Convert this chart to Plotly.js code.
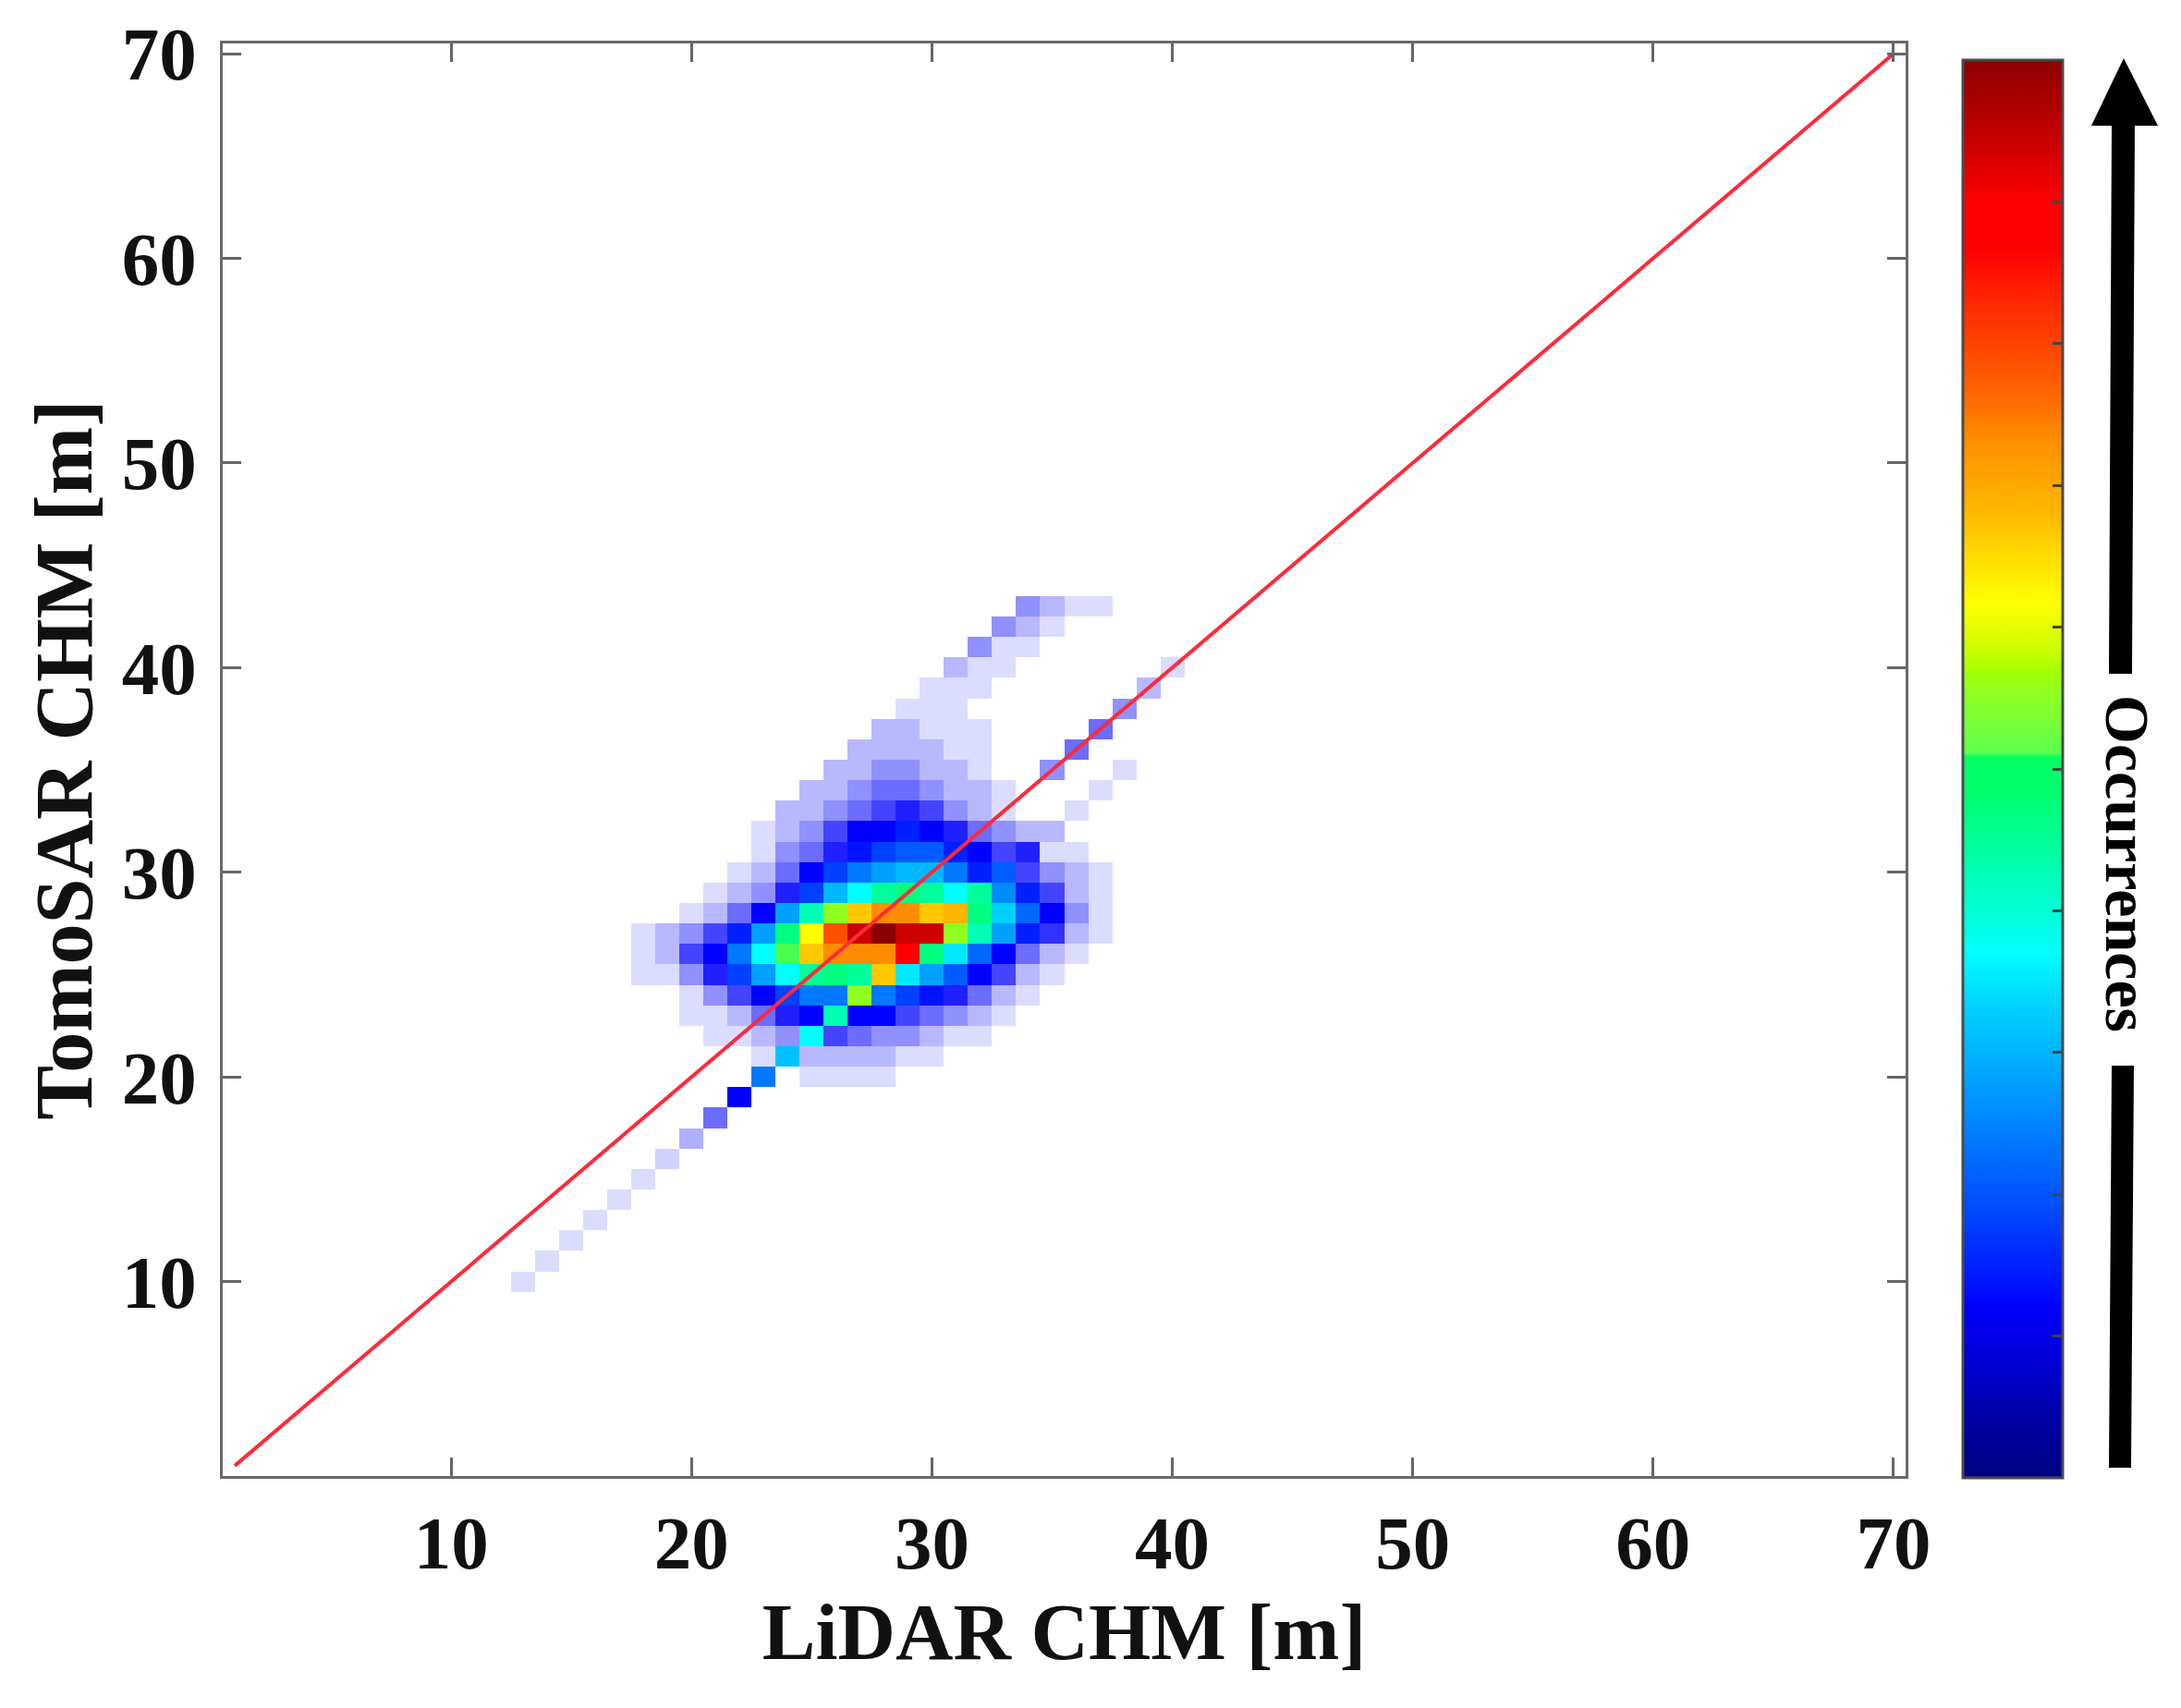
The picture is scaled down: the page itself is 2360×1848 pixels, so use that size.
<!DOCTYPE html>
<html>
<head>
<meta charset="utf-8">
<script src="https://cdn.plot.ly/plotly-3.0.1.min.js"></script>
<style>html,body{margin:0;padding:0;background:#fff}</style>
</head>
<body>
<div id="chart" style="width:2360px;height:1848px"></div>
<script>
// Each row: TomoSAR bin, first LiDAR bin, and the occurrence level of successive LiDAR bins
const rowY = [10,11,12,13,14,15,16,17,18,19,20,21,22,23,24,25,26,27,28,29,30,31,32,33,34,35,36,37,38,39,40,41,42,43];
const rowFirstX = [13,14,15,16,17,18,19,20,21,22,23,23,21,20,20,18,18,18,20,21,22,23,23,24,25,26,27,28,29,30,31,32,33,34];
const n = null;
const rowLevels = [
  [1],[1],[1],[1],[1],[1],[1.3],[2.2],[4],[7],
  [9,n,1,1,1,1],
  [1,10.7,2,2,2,2,1,1],
  [1,1,2,3,12,5,4,3,3,2,1,1],
  [1,1,2,4,6,7,13,7,7,5,4,3,2,1],
  [1,3,5,7,8,9,9,15,9,8,7.3,6,4,2,1],
  [1,1,3,6,8,10,12,13.5,14,13.5,17,11.5,10,8.5,7,5,2,1],
  [1,2,5,7,9,12,14.5,17,18,18,18,20,14,11.5,8.7,7,4,2,1],
  [1,2,3,5,7.5,10,14,16,19,21,22,21,21,15,13,10,7.5,5.5,2,1],
  [1,2,4,7,10,13,15,17,18,18,17,17.3,14,11,8.7,7,3,1],
  [1,2,3,6,8,10.5,12,13.5,14,13.5,12,13.5,9.5,7.5,5,2,1],
  [1,2,4,7,8,9,10,10.5,10.5,9,7.5,8.5,5,3,2,1],
  [1,3,4,6,7.3,8,8.5,8.5,7.5,7,5,6,1,1],
  [1,2,3,5,7,7,7.5,7,6,4,3,2,2],
  [2,2,3,4,5,6,5,3,2,1,n,n,1],
  [2,2,3,4,4,3,2,2,1,n,n,n,1],
  [2,2,3,3,2,2,1,n,n,3,n,n,1],
  [2,2,2,2,1,1,n,n,n,4],
  [2,2,1,1,1,n,n,n,n,4],
  [1,1,1,n,n,n,n,n,n,3],
  [1,1,1,n,n,n,n,n,n,2],
  [2,1,1,n,n,n,n,n,n,1],
  [3,1,1],
  [3,2,1],
  [3,2,1,1]
];
const lineEnds = [1, 70];
const xTicks = [10,20,30,40,50,60,70];
const yTicks = [10,20,30,40,50,60,70];
const barTicks = [0.1,0.2,0.3,0.4,0.5,0.6,0.7,0.8,0.9];
const levelStops = [
  [1,'#dcdcff'],[2,'#b8b8ff'],[3,'#9090ff'],[4,'#6c6cff'],[5,'#4444ff'],[6,'#2020ff'],[7,'#0000ff'],
  [8,'#0040ff'],[9,'#0078ff'],[10,'#00a0ff'],[11,'#00d0ff'],[12,'#00ffff'],[13,'#00ffb4'],[14,'#00ff80'],
  [15,'#90ff20'],[16,'#ffff00'],[17,'#ffc800'],[18,'#ff8c00'],[19,'#ff5000'],[20,'#ff0000'],[21,'#cc0000'],[22,'#8b0000']
];
const barStops = [
  [0,'#000080'],[0.043,'#0000a8'],[0.12,'#0000ff'],[0.195,'#0050ff'],[0.338,'#00d8ff'],[0.371,'#00ffff'],
  [0.398,'#00ffd8'],[0.431,'#00ffb0'],[0.481,'#00ff70'],[0.508,'#00ff60'],[0.512,'#60ff50'],[0.554,'#90ff20'],
  [0.571,'#a8ff00'],[0.587,'#d0ff00'],[0.617,'#ffff00'],[0.647,'#ffe000'],[0.68,'#ffb800'],[0.73,'#ff9000'],
  [0.77,'#ff6000'],[0.837,'#ff2000'],[0.865,'#ff0000'],[0.9,'#ff0000'],[0.94,'#cc0000'],[1,'#8b0000']
];

const W = 2360, H = 1848;
const px = v => v / W, py = v => 1 - v / H;
const binCenters = Array.from({length: 70}, (_, i) => i + 1);
const z = binCenters.map(() => binCenters.map(() => null));
rowY.forEach((y, r) => rowLevels[r].forEach((v, i) => { z[y - 1][rowFirstX[r] + i - 1] = v; }));

const serif = 'Liberation Serif, Times New Roman, serif';
const axis = {
  range: [0.5, 70.5], tickmode: 'array', ticks: 'inside', ticklen: 20, tickwidth: 3, tickcolor: '#666',
  showline: true, linecolor: '#6a6a6a', linewidth: 3, mirror: 'ticks', showgrid: false, zeroline: false,
  tickfont: {family: serif, size: 81, color: '#111', weight: 700}
};
const traces = [
  {type: 'heatmap', x: binCenters, y: binCenters, z: z, zmin: 1, zmax: 22, zsmooth: false, showscale: false,
   colorscale: levelStops.map(s => [(s[0] - 1) / 21, s[1]]), hoverongaps: false},
  {type: 'scatter', mode: 'lines', x: lineEnds, y: lineEnds, line: {color: '#ff2a3a', width: 4}, showlegend: false},
  {type: 'scatter', mode: 'markers', x: [-10, -10], y: [-10, -10], showlegend: false, hoverinfo: 'skip',
   marker: {color: [0, 1], cmin: 0, cmax: 1, colorscale: barStops, showscale: true,
     colorbar: {x: px(2124), xanchor: 'left', xpad: 0, y: py(1599), yanchor: 'bottom', ypad: 0,
       thicknessmode: 'pixels', thickness: 108, lenmode: 'pixels', len: 1534,
       outlinecolor: '#4a4a4a', outlinewidth: 3, borderwidth: 0,
       tickmode: 'array', tickvals: barTicks, ticktext: barTicks.map(() => ''), ticks: 'inside', ticklen: 12, tickwidth: 3, tickcolor: '#444'}}}
];
const blackFill = {type: 'path', xref: 'paper', yref: 'paper', fillcolor: '#000', line: {width: 0}};
const poly = pts => 'M' + pts.map(p => px(p[0]) + ',' + py(p[1])).join(' L') + ' Z';
const layout = {
  width: W, height: H, margin: {l: 0, r: 0, t: 0, b: 0, autoexpand: false}, paper_bgcolor: '#fff', plot_bgcolor: '#fff',
  showlegend: false,
  xaxis: Object.assign({}, axis, {domain: [px(241), px(2062)], tickvals: xTicks,
    title: {text: 'LiDAR CHM [m]', standoff: 21, font: {family: serif, size: 86.5, color: '#111', weight: 700}}}),
  yaxis: Object.assign({}, axis, {domain: [py(1597), py(47)], tickvals: yTicks, ticklabelstandoff: 9,
    title: {text: 'TomoSAR CHM [m]', standoff: 3, font: {family: serif, size: 88, color: '#111', weight: 700}}}),
  shapes: [
    Object.assign({}, blackFill, {path: poly([[2298,63],[2335,136],[2310,136],[2307,729],[2282,729],[2285,136],[2263,136]])}),
    Object.assign({}, blackFill, {path: poly([[2285,1153],[2309,1153],[2306,1588],[2282,1588]])})
  ],
  annotations: [
    {xref: 'paper', yref: 'paper', x: px(2302), y: py(934), text: 'Occurrences', textangle: 90, showarrow: false,
     xanchor: 'center', yanchor: 'middle', font: {family: serif, size: 68, color: '#000', weight: 700}}
  ]
};
Plotly.newPlot('chart', traces, layout, {displayModeBar: false, staticPlot: true});
</script>
</body>
</html>
